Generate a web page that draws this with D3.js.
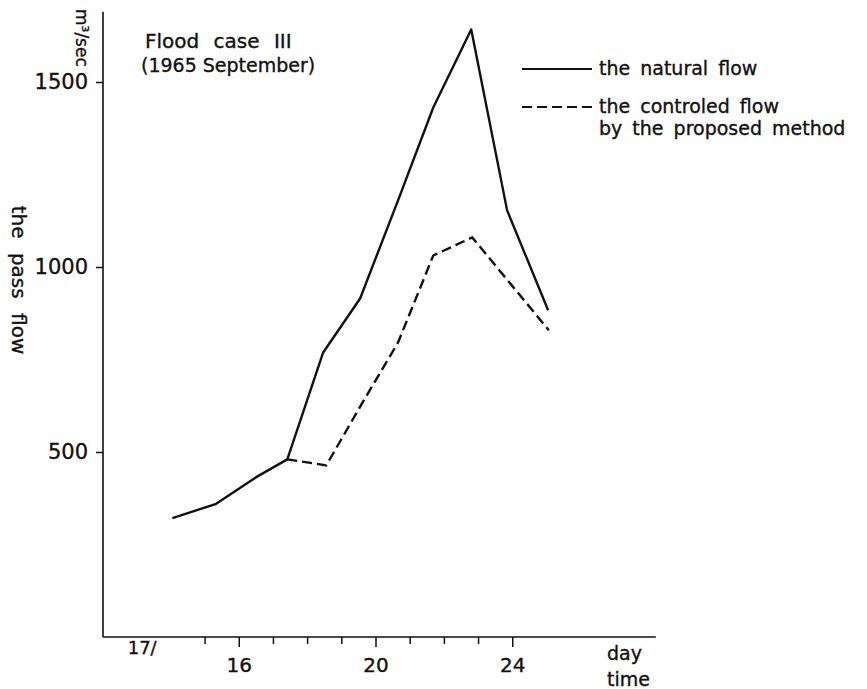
<!DOCTYPE html>
<html>
<head>
<meta charset="utf-8">
<script src="https://cdn.jsdelivr.net/npm/d3@7"></script>
<style>
  body { margin: 0; background: #fff; }
  svg { display: block; font-family: "DejaVu Sans", sans-serif; }
  svg text { fill: #111; stroke: #111; stroke-width: 0.35px; }
</style>
</head>
<body>
<div id="chart"></div>
<script>
// Flood case III (1965 September) - pass flow, natural vs controlled

// hour of day (17th onward, 24 = midnight)
const naturalHours = [14.06, 15.34, 16.51, 17.42, 18.47, 19.55, 20.66, 21.69, 22.80, 23.85, 25.05];
const naturalFlow = [321, 360, 432, 480, 769, 915, 1180, 1431, 1642, 1153, 883];

const controlledHours = [17.42, 18.56, 19.61, 20.66, 21.69, 22.83, 25.07];
const controlledFlow = [480, 464, 632, 796, 1031, 1080, 829];

const xTicks = [15, 16, 17, 18, 19, 20, 21, 22, 23, 24];
const xTickLabels = { 16: '16', 20: '20', 24: '24' };
const yTicks = [500, 1000, 1500];

const legendItems = [
  { label: ['the natural flow'], dash: null },
  { label: ['the controled flow', 'by the proposed method'], dash: '10,5' }
];

const width = 867, height = 689;

const svg = d3.select('#chart').append('svg')
  .attr('width', width)
  .attr('height', height);

const x = d3.scaleLinear().domain([12, 28]).range([102, 649]);
const y = d3.scaleLinear().domain([0, 1700]).range([637, 8]);

// axes
const xAxis = svg.append('g')
  .attr('transform', `translate(0,${y(0)})`)
  .call(d3.axisBottom(x)
    .tickValues(xTicks)
    .tickSize(7)
    .tickPadding(14)
    .tickFormat(d => xTickLabels[d] || ''));
xAxis.select('.domain').remove();
xAxis.selectAll('.tick line')
  .attr('stroke', '#111')
  .attr('stroke-width', 1.5)
  .attr('y2', d => xTickLabels[d] ? 10 : 7);
xAxis.selectAll('.tick text')
  .style('font-size', '20px')
  .style('font-family', '"DejaVu Sans", sans-serif');

svg.append('line')
  .attr('x1', x(12) + 1).attr('x2', x(28.2))
  .attr('y1', y(0)).attr('y2', y(0))
  .attr('stroke', '#111').attr('stroke-width', 1.6);

const yAxis = svg.append('g')
  .attr('transform', `translate(${x(12) + 1},0)`)
  .call(d3.axisLeft(y)
    .tickValues(yTicks)
    .tickSize(7)
    .tickPadding(8)
    .tickFormat(d3.format('d')));
yAxis.select('.domain').remove();
yAxis.selectAll('.tick line').attr('stroke', '#111').attr('stroke-width', 1.5);
yAxis.selectAll('.tick text')
  .style('font-size', '21px')
  .style('font-family', '"DejaVu Sans", sans-serif');

svg.append('line')
  .attr('x1', x(12) + 1).attr('x2', x(12) + 1)
  .attr('y1', y(0)).attr('y2', y(1690))
  .attr('stroke', '#111').attr('stroke-width', 1.6);

// lines
const line = d3.line()
  .x(d => x(d[0]))
  .y(d => y(d[1]));

svg.append('path')
  .datum(d3.zip(naturalHours, naturalFlow))
  .attr('d', line)
  .attr('fill', 'none')
  .attr('stroke', '#111')
  .attr('stroke-width', 2.4)
  .attr('stroke-linejoin', 'round');

svg.append('path')
  .datum(d3.zip(controlledHours, controlledFlow))
  .attr('d', line)
  .attr('fill', 'none')
  .attr('stroke', '#111')
  .attr('stroke-width', 2.4)
  .attr('stroke-dasharray', '10,5');

// title
svg.append('text')
  .attr('x', 145).attr('y', 48)
  .style('font-size', '20px')
  .style('word-spacing', '8px')
  .text('Flood case III');
svg.append('text')
  .attr('x', 141).attr('y', 72)
  .style('font-size', '19px')
  .text('(1965 September)');

// axis labels
svg.append('text')
  .attr('transform', `translate(76,9) rotate(90)`)
  .style('font-size', '17px')
  .text('m³/sec');

svg.append('text')
  .attr('transform', `translate(12,280) rotate(90)`)
  .attr('text-anchor', 'middle')
  .style('font-size', '20px')
  .style('word-spacing', '8px')
  .text('the pass flow');

svg.append('text')
  .attr('x', x(13) + 6).attr('y', y(0) + 17)
  .attr('text-anchor', 'middle')
  .style('font-size', '18px')
  .text('17/');

svg.append('text')
  .attr('x', 607).attr('y', 660)
  .style('font-size', '19px')
  .text('day');
svg.append('text')
  .attr('x', 607).attr('y', 686)
  .style('font-size', '19px')
  .text('time');

// legend
const legend = svg.append('g').attr('transform', 'translate(522,69)');
legendItems.forEach((item, i) => {
  const g = legend.append('g').attr('transform', `translate(0,${i * 38})`);
  g.append('line')
    .attr('x1', 0).attr('x2', 70)
    .attr('stroke', '#111')
    .attr('stroke-width', 2)
    .attr('stroke-dasharray', item.dash);
  item.label.forEach((t, j) => {
    g.append('text')
      .attr('x', 77).attr('y', 6 + j * 22)
      .style('font-size', '19px')
      .style('word-spacing', '4px')
      .text(t);
  });
});
</script>
</body>
</html>
